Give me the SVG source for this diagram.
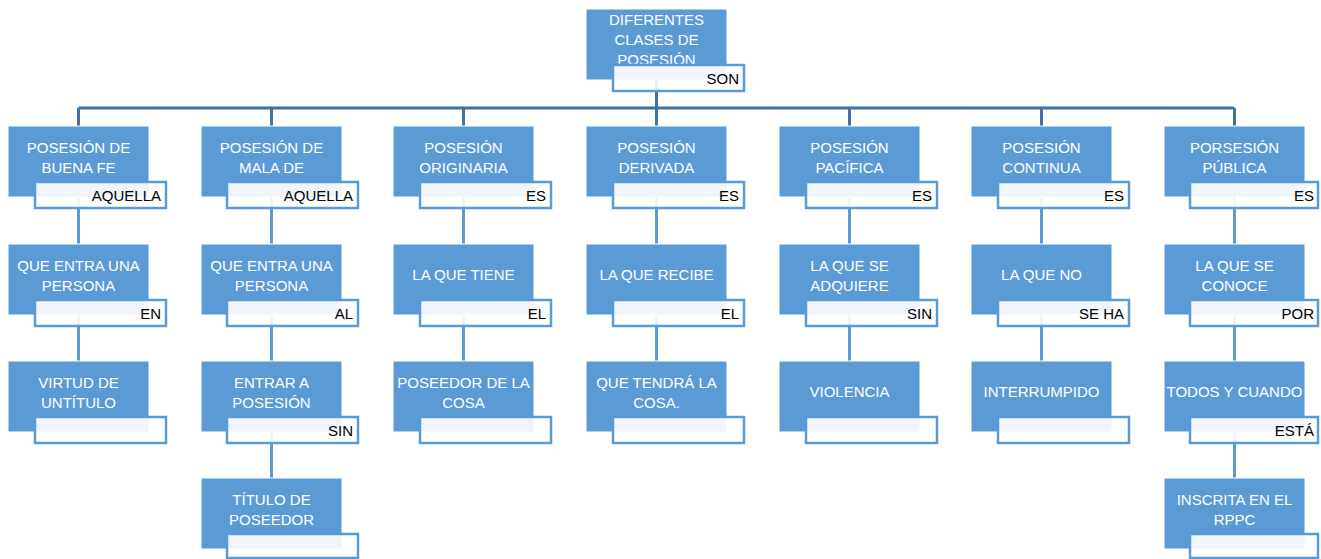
<svg xmlns="http://www.w3.org/2000/svg" width="1321" height="559" viewBox="0 0 1321 559">
<style>
.box{fill:#5b9bd5;stroke:#ffffff;stroke-width:1}
.lab{fill:#ffffff;fill-opacity:0.9;stroke:#5b9bd5;stroke-width:2.5}
.t{font-family:"Liberation Sans",Arial,sans-serif;font-size:15px;fill:#ffffff;text-anchor:middle}
.l{font-family:"Liberation Sans",Arial,sans-serif;font-size:15px;fill:#000000;text-anchor:end}
.bus{stroke:#41719c;stroke-width:3;fill:none}
.ln{stroke:#5b9bd5;stroke-width:3;fill:none}
</style>
<rect width="1321" height="559" fill="#ffffff"/>
<g id="connectors">
<path class="bus" d="M656.5 44V108M78.5 108H1234.5M78.5 108V126M271.5 108V126M463.5 108V126M656.5 108V126M849.5 108V126M1041.5 108V126M1234.5 108V126"/>
<path class="ln" d="M78.5 161V244M78.5 279V361M271.5 161V244M271.5 279V361M271.5 396V478M463.5 161V244M463.5 279V361M656.5 161V244M656.5 279V361M849.5 161V244M849.5 279V361M1041.5 161V244M1041.5 279V361M1234.5 161V244M1234.5 279V361M1234.5 396V478"/>
</g>
<g id="root">
<rect class="box" x="586" y="9" width="141" height="71"/>
<text class="t" x="656.5" y="25">DIFERENTES</text>
<text class="t" x="656.5" y="45">CLASES DE</text>
<text class="t" x="656.5" y="65">POSESIÓN</text>
<rect class="lab" x="613" y="65" width="131" height="26"/>
<text class="l" x="739" y="84">SON</text>
</g>
<g id="c1n1">
<rect class="box" x="8" y="126" width="141" height="71"/>
<text class="t" x="78.5" y="153">POSESIÓN DE</text>
<text class="t" x="78.5" y="173">BUENA FE</text>
<rect class="lab" x="35" y="182" width="131" height="26"/>
<text class="l" x="161" y="201">AQUELLA</text>
</g>
<g id="c1n2">
<rect class="box" x="8" y="244" width="141" height="71"/>
<text class="t" x="78.5" y="271">QUE ENTRA UNA</text>
<text class="t" x="78.5" y="291">PERSONA</text>
<rect class="lab" x="35" y="300" width="131" height="26"/>
<text class="l" x="161" y="319">EN</text>
</g>
<g id="c1n3">
<rect class="box" x="8" y="361" width="141" height="71"/>
<text class="t" x="78.5" y="388">VIRTUD DE</text>
<text class="t" x="78.5" y="408">UNTÍTULO</text>
<rect class="lab" x="35" y="417" width="131" height="26"/>
</g>
<g id="c2n1">
<rect class="box" x="201" y="126" width="141" height="71"/>
<text class="t" x="271.5" y="153">POSESIÓN DE</text>
<text class="t" x="271.5" y="173">MALA DE</text>
<rect class="lab" x="227" y="182" width="131" height="26"/>
<text class="l" x="353" y="201">AQUELLA</text>
</g>
<g id="c2n2">
<rect class="box" x="201" y="244" width="141" height="71"/>
<text class="t" x="271.5" y="271">QUE ENTRA UNA</text>
<text class="t" x="271.5" y="291">PERSONA</text>
<rect class="lab" x="227" y="300" width="131" height="26"/>
<text class="l" x="353" y="319">AL</text>
</g>
<g id="c2n3">
<rect class="box" x="201" y="361" width="141" height="71"/>
<text class="t" x="271.5" y="388">ENTRAR A</text>
<text class="t" x="271.5" y="408">POSESIÓN</text>
<rect class="lab" x="227" y="417" width="131" height="26"/>
<text class="l" x="353" y="436">SIN</text>
</g>
<g id="c2n4">
<rect class="box" x="201" y="478" width="141" height="71"/>
<text class="t" x="271.5" y="505">TÍTULO DE</text>
<text class="t" x="271.5" y="525">POSEEDOR</text>
<rect class="lab" x="227" y="534" width="131" height="24"/>
</g>
<g id="c3n1">
<rect class="box" x="393" y="126" width="141" height="71"/>
<text class="t" x="463.5" y="153">POSESIÓN</text>
<text class="t" x="463.5" y="173">ORIGINARIA</text>
<rect class="lab" x="420" y="182" width="131" height="26"/>
<text class="l" x="546" y="201">ES</text>
</g>
<g id="c3n2">
<rect class="box" x="393" y="244" width="141" height="71"/>
<text class="t" x="463.5" y="280">LA QUE TIENE</text>
<rect class="lab" x="420" y="300" width="131" height="26"/>
<text class="l" x="546" y="319">EL</text>
</g>
<g id="c3n3">
<rect class="box" x="393" y="361" width="141" height="71"/>
<text class="t" x="463.5" y="388">POSEEDOR DE LA</text>
<text class="t" x="463.5" y="408">COSA</text>
<rect class="lab" x="420" y="417" width="131" height="26"/>
</g>
<g id="c4n1">
<rect class="box" x="586" y="126" width="141" height="71"/>
<text class="t" x="656.5" y="153">POSESIÓN</text>
<text class="t" x="656.5" y="173">DERIVADA</text>
<rect class="lab" x="613" y="182" width="131" height="26"/>
<text class="l" x="739" y="201">ES</text>
</g>
<g id="c4n2">
<rect class="box" x="586" y="244" width="141" height="71"/>
<text class="t" x="656.5" y="280">LA QUE RECIBE</text>
<rect class="lab" x="613" y="300" width="131" height="26"/>
<text class="l" x="739" y="319">EL</text>
</g>
<g id="c4n3">
<rect class="box" x="586" y="361" width="141" height="71"/>
<text class="t" x="656.5" y="388">QUE TENDRÁ LA</text>
<text class="t" x="656.5" y="408">COSA.</text>
<rect class="lab" x="613" y="417" width="131" height="26"/>
</g>
<g id="c5n1">
<rect class="box" x="779" y="126" width="141" height="71"/>
<text class="t" x="849.5" y="153">POSESIÓN</text>
<text class="t" x="849.5" y="173">PACÍFICA</text>
<rect class="lab" x="806" y="182" width="131" height="26"/>
<text class="l" x="932" y="201">ES</text>
</g>
<g id="c5n2">
<rect class="box" x="779" y="244" width="141" height="71"/>
<text class="t" x="849.5" y="271">LA QUE SE</text>
<text class="t" x="849.5" y="291">ADQUIERE</text>
<rect class="lab" x="806" y="300" width="131" height="26"/>
<text class="l" x="932" y="319">SIN</text>
</g>
<g id="c5n3">
<rect class="box" x="779" y="361" width="141" height="71"/>
<text class="t" x="849.5" y="397">VIOLENCIA</text>
<rect class="lab" x="806" y="417" width="131" height="26"/>
</g>
<g id="c6n1">
<rect class="box" x="971" y="126" width="141" height="71"/>
<text class="t" x="1041.5" y="153">POSESIÓN</text>
<text class="t" x="1041.5" y="173">CONTINUA</text>
<rect class="lab" x="998" y="182" width="131" height="26"/>
<text class="l" x="1124" y="201">ES</text>
</g>
<g id="c6n2">
<rect class="box" x="971" y="244" width="141" height="71"/>
<text class="t" x="1041.5" y="280">LA QUE NO</text>
<rect class="lab" x="998" y="300" width="131" height="26"/>
<text class="l" x="1124" y="319">SE HA</text>
</g>
<g id="c6n3">
<rect class="box" x="971" y="361" width="141" height="71"/>
<text class="t" x="1041.5" y="397">INTERRUMPIDO</text>
<rect class="lab" x="998" y="417" width="131" height="26"/>
</g>
<g id="c7n1">
<rect class="box" x="1164" y="126" width="141" height="71"/>
<text class="t" x="1234.5" y="153">PORSESIÓN</text>
<text class="t" x="1234.5" y="173">PÚBLICA</text>
<rect class="lab" x="1190" y="182" width="128" height="26"/>
<text class="l" x="1314" y="201">ES</text>
</g>
<g id="c7n2">
<rect class="box" x="1164" y="244" width="141" height="71"/>
<text class="t" x="1234.5" y="271">LA QUE SE</text>
<text class="t" x="1234.5" y="291">CONOCE</text>
<rect class="lab" x="1190" y="300" width="128" height="26"/>
<text class="l" x="1314" y="319">POR</text>
</g>
<g id="c7n3">
<rect class="box" x="1164" y="361" width="141" height="71"/>
<text class="t" x="1234.5" y="397">TODOS Y CUANDO</text>
<rect class="lab" x="1190" y="417" width="128" height="26"/>
<text class="l" x="1314" y="436">ESTÁ</text>
</g>
<g id="c7n4">
<rect class="box" x="1164" y="478" width="141" height="71"/>
<text class="t" x="1234.5" y="505">INSCRITA EN EL</text>
<text class="t" x="1234.5" y="525">RPPC</text>
<rect class="lab" x="1190" y="534" width="128" height="24"/>
</g>
</svg>
